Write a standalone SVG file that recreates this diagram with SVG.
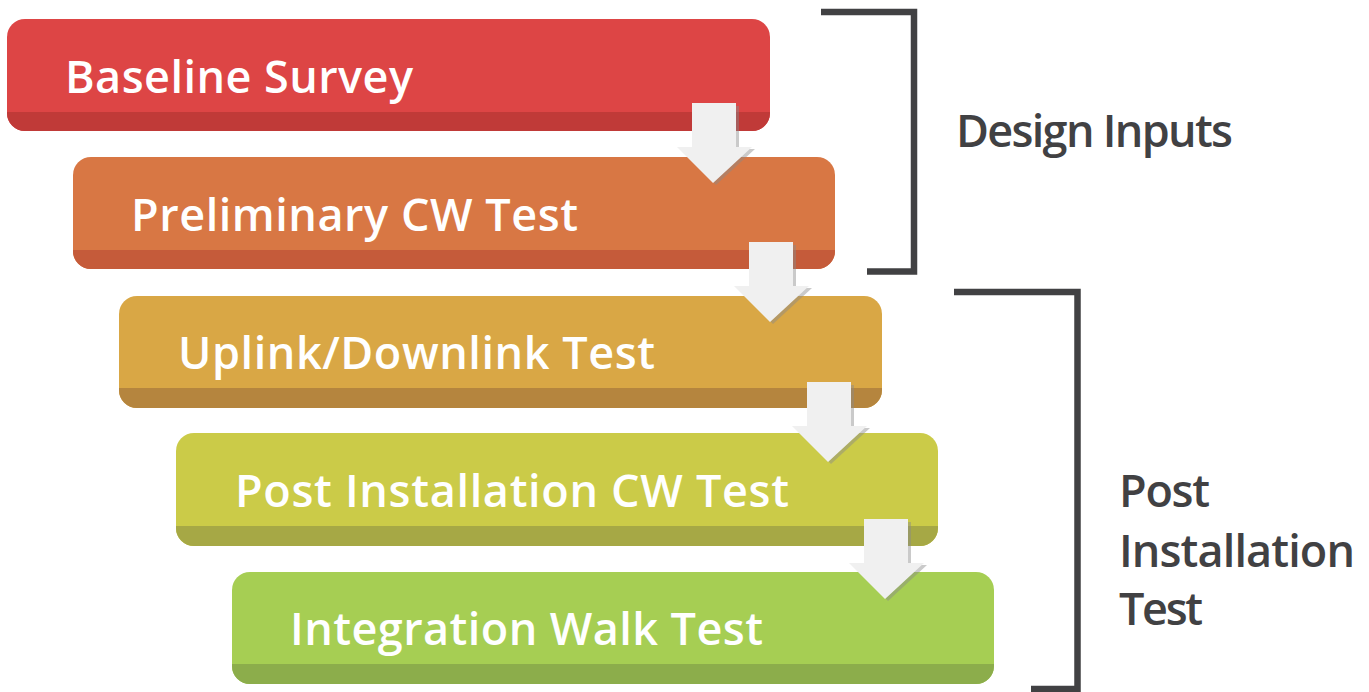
<svg xmlns="http://www.w3.org/2000/svg" width="1369" height="692" viewBox="0 0 1369 692">
<style>
.lbl{font-family:"Open Sans","Liberation Sans",sans-serif;font-weight:600;font-size:45px;fill:#ffffff}
.side{font-family:"Open Sans","Liberation Sans",sans-serif;font-weight:600;font-size:45px;fill:#414143}
.br{fill:none;stroke:#414143;stroke-width:6.5;stroke-linejoin:miter;stroke-linecap:butt}
.arr{fill:#f0f0f0}
.sh{fill:#8a8a8a;opacity:0.45}
</style>
<rect width="1369" height="692" fill="#ffffff"/>
<g id="node-baseline">
<rect x="7" y="19" width="763" height="112" rx="18" fill="#dd4545"/>
<path d="M7,112 H770 V113 A18,18 0 0 1 752,131 H25 A18,18 0 0 1 7,113 Z" fill="#c03a38"/>
<text class="lbl" x="65" y="93" textLength="348">Baseline Survey</text>
</g>
<g id="node-preliminary">
<rect x="73" y="157" width="762" height="112" rx="18" fill="#d87744"/>
<path d="M73,250 H835 V251 A18,18 0 0 1 817,269 H91 A18,18 0 0 1 73,251 Z" fill="#c55b3a"/>
<text class="lbl" x="131" y="231" textLength="447">Preliminary CW Test</text>
</g>
<g id="node-uplink">
<rect x="119" y="296" width="763" height="112" rx="18" fill="#d9a745"/>
<path d="M119,388 H882 V390 A18,18 0 0 1 864,408 H137 A18,18 0 0 1 119,390 Z" fill="#b5853e"/>
<text class="lbl" x="178" y="369" textLength="477">Uplink/Downlink Test</text>
</g>
<g id="node-postcw">
<rect x="176" y="433" width="762" height="113" rx="18" fill="#cbcb48"/>
<path d="M176,526 H938 V528 A18,18 0 0 1 920,546 H194 A18,18 0 0 1 176,528 Z" fill="#a6a845"/>
<text class="lbl" x="235" y="507" textLength="554">Post Installation CW Test</text>
</g>
<g id="node-walk">
<rect x="232" y="572" width="762" height="112" rx="18" fill="#a6ce53"/>
<path d="M232,664 H994 V666 A18,18 0 0 1 976,684 H250 A18,18 0 0 1 232,666 Z" fill="#8cad4b"/>
<text class="lbl" x="290" y="645" textLength="473">Integration Walk Test</text>
</g>
<g id="connectors">
<polygon class="sh" points="695,106 739,106 739,149 755,149 716,185 680,149 695,149"/>
<polygon class="arr" points="692,103 736,103 736,147 752,147 713,183 677,147 692,147"/>
<polygon class="sh" points="752,245 796,245 796,288 812,288 773,324 737,288 752,288"/>
<polygon class="arr" points="749,242 793,242 793,286 809,286 770,322 734,286 749,286"/>
<polygon class="sh" points="810,385 854,385 854,428 870,428 831,464 795,428 810,428"/>
<polygon class="arr" points="807,382 851,382 851,426 867,426 828,462 792,426 807,426"/>
<polygon class="sh" points="867,522 911,522 911,565 927,565 888,601 852,565 867,565"/>
<polygon class="arr" points="864,519 908,519 908,563 924,563 885,599 849,563 864,563"/>
</g>
<g id="bracket-design">
<path class="br" d="M821,12 H914 V271.5 H867"/>
<text class="side" x="956" y="147" textLength="277">Design Inputs</text>
</g>
<g id="bracket-post">
<path class="br" d="M954,292 H1077.5 V689 H1031"/>
<text class="side" x="1119" y="507" textLength="91">Post</text>
<text class="side" x="1119" y="567" textLength="236">Installation</text>
<text class="side" x="1119" y="625" textLength="84">Test</text>
</g>
</svg>
